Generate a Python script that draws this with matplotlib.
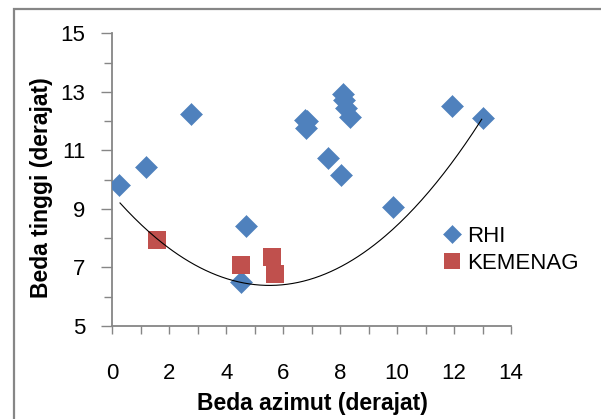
import numpy as np
import matplotlib
matplotlib.use('Agg')
import matplotlib.pyplot as plt
from matplotlib.patches import Rectangle
from matplotlib.ticker import MultipleLocator

plt.rcParams['font.family'] = ['Liberation Sans', 'DejaVu Sans']

# RHI points (beda azimut, beda tinggi)
rhi_x = [0.23, 1.18, 2.76, 4.69, 4.52, 6.75, 6.80, 6.85, 7.59, 8.02,
         8.10, 8.15, 8.20, 8.35, 9.85, 11.92, 13.03]
rhi_y = [9.80, 10.43, 12.25, 8.43, 6.50, 12.05, 11.75, 12.00, 10.73, 10.16,
         12.92, 12.72, 12.45, 12.14, 9.05, 12.52, 12.10]

# KEMENAG points
kem_x = [1.58, 4.52, 5.60, 5.71]
kem_y = [7.94, 7.09, 7.34, 6.79]

# points (polynomial, order 2)
trend_x = [0.27, 1.26, 1.91, 3.08, 4.49, 5.54, 6.24, 8.00, 8.35, 10.22, 11.63, 12.68, 12.97]
trend_y = [9.24, 8.21, 7.70, 6.98, 6.49, 6.39, 6.47, 7.04, 7.20, 8.67, 10.09, 11.68, 12.08]

blue = '#4F81BD'
red = '#C0504D'
grey = '#868686'

fig = plt.figure(figsize=(6.01, 4.19), dpi=100)
ax = fig.add_axes([0.1869, 0.2220, 0.6634, 0.6985])

ax.plot(rhi_x, rhi_y, linestyle='none', marker='D', markersize=10.7,
        color=blue, markeredgecolor=blue, markeredgewidth=0.4, label='RHI', zorder=3)
ax.plot(kem_x, kem_y, linestyle='none', marker='s', markersize=13.3,
        color=red, markeredgewidth=0, label='KEMENAG', zorder=4)

coef = np.polyfit(trend_x, trend_y, 2)
xs = np.linspace(trend_x[0], trend_x[-1], 200)
ax.plot(xs, np.polyval(coef, xs), color='black', linewidth=0.8, zorder=5)

ax.set_xlim(0, 14)
ax.set_ylim(5, 15)
ax.xaxis.set_major_locator(MultipleLocator(2))
ax.xaxis.set_minor_locator(MultipleLocator(1))
ax.yaxis.set_major_locator(MultipleLocator(2))
ax.yaxis.set_minor_locator(MultipleLocator(1))
ax.set_yticks([5, 7, 9, 11, 13, 15])

for side in ['top', 'right']:
    ax.spines[side].set_visible(False)
for side in ['left', 'bottom']:
    ax.spines[side].set_color(grey)
    ax.spines[side].set_linewidth(1.3)

ax.tick_params(axis='x', which='both', direction='out', length=5.5, width=1,
               color=grey, labelsize=16, pad=21)
ax.tick_params(axis='y', which='major', direction='out', length=8, width=1,
               color=grey, labelsize=16, pad=11.5)
ax.tick_params(axis='y', which='minor', direction='out', length=6, width=1, color=grey)

ax.set_xlabel('Beda azimut (derajat)', fontsize=16.5, fontweight='bold')
ax.xaxis.set_label_coords(0.503, -0.2255)
ax.set_ylabel('Beda tinggi (derajat)', fontsize=16.5, fontweight='bold')
ax.yaxis.set_label_coords(-0.149, 0.473)

ax.legend(loc='upper left', bbox_to_anchor=(443 / 601, 1 - 226 / 419),
          bbox_transform=fig.transFigure, frameon=False, fontsize=16,
          borderpad=0, borderaxespad=0, handlelength=0.8, handletextpad=0.28,
          labelspacing=0.25, markerscale=0.83)

fig.add_artist(Rectangle((13.5 / 601, -0.1), 1.2, 1.1 - 9.5 / 419,
                         transform=fig.transFigure, fill=False,
                         edgecolor=grey, linewidth=1.6, clip_on=False))

fig.savefig('out.png', dpi=100)
